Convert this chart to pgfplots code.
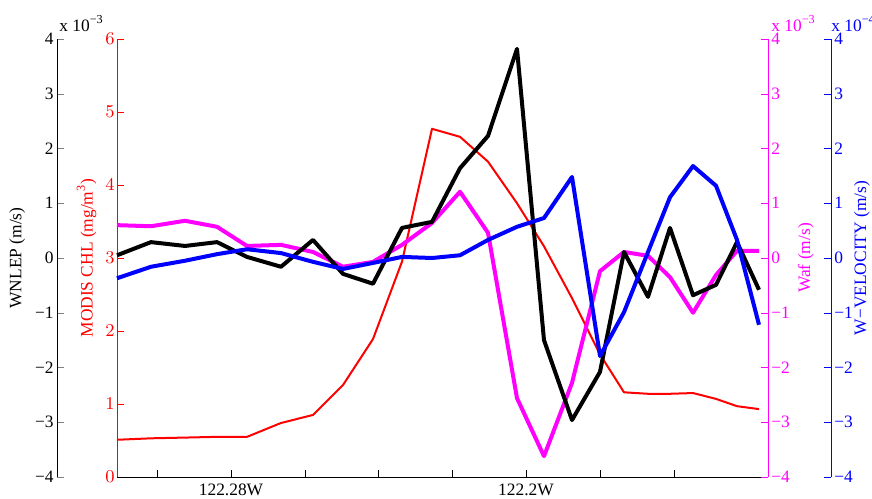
\documentclass[border=0pt]{standalone}
\usepackage{fontspec}
\setmainfont{Liberation Serif}
\usepackage{pgfplots}
\usepackage{pgfplotstable}
\pgfplotsset{compat=1.18}
\definecolor{mag}{RGB}{255,0,255}

\pgfplotstableread{
x chl
117 0.51
151 0.53
185 0.54
217 0.55
247 0.55
281 0.74
313 0.85
343 1.26
373 1.89
402 2.95
432 4.77
460 4.66
488 4.32
517 3.75
544 3.16
572 2.45
600 1.68
624 1.16
648 1.14
670 1.14
693 1.15
716 1.07
737 0.97
759 0.93
}\redtab

\pgfplotstableread{
x w
117 0.05
151 0.29
185 0.22
217 0.29
247 0.02
281 -0.16
313 0.33
343 -0.29
373 -0.47
402 0.55
432 0.66
460 1.64
488 2.23
517 3.82
544 -1.50
572 -2.96
600 -2.08
624 0.11
648 -0.71
670 0.55
693 -0.68
716 -0.49
737 0.29
759 -0.58
}\blacktab

\pgfplotstableread{
x w
117 0.60
151 0.58
185 0.68
217 0.57
247 0.22
281 0.24
313 0.11
343 -0.16
373 -0.07
402 0.24
432 0.64
460 1.21
488 0.46
517 -2.56
544 -3.62
572 -2.28
600 -0.24
624 0.11
648 0.04
670 -0.35
693 -1.00
716 -0.31
737 0.13
759 0.13
}\magtab

\pgfplotstableread{
x w
117 -0.37
151 -0.16
185 -0.05
217 0.07
247 0.16
281 0.09
313 -0.07
343 -0.20
373 -0.09
402 0.02
432 0.00
460 0.05
488 0.33
517 0.57
544 0.73
572 1.48
600 -1.79
624 -0.99
648 0.11
670 1.11
693 1.68
716 1.32
737 0.33
759 -1.22
}\bluetab

\pgfplotsset{
  myax/.style={
    scale only axis, height=219pt, anchor=south west, clip=false,
    tick label style={font=\fontsize{8.7}{10}\selectfont},
    label style={font=\fontsize{8.7}{10}\selectfont},
    major tick length=3.5pt,
  },
  pm/.style={ymin=-4, ymax=4, ytick={-4,-3,-2,-1,0,1,2,3,4},
    yticklabels={−4,−3,−2,−1,0,1,2,3,4}},
}

\begin{document}
\begin{tikzpicture}
% red CHL axis (main, with x axis)
\begin{axis}[myax, at={(58.5pt,10.5pt)}, width=325.5pt,
  xmin=117, xmax=768, ymin=0, ymax=6,
  axis x line*=bottom, axis y line*=left,
  x axis line style={black}, y axis line style={red},
  xtick={157,231,305,378,452,526,600,674},
  xticklabels={,122.28W,,,,122.2W,,},
  ytick={0,1,2,3,4,5,6},
  xtick style={black}, ytick style={red},
  yticklabel style={red, inner sep=1pt},
  ylabel={MODIS CHL (mg/m\textsuperscript{3})}, ylabel style={red},
  tick align=inside]
\addplot[red, line width=1pt, line join=round] table[x=x,y=chl]{\redtab};
\end{axis}
% magenta Waf axis
\begin{axis}[myax, pm, at={(58.5pt,10.5pt)}, width=325.5pt,
  xmin=117, xmax=768, hide x axis, axis y line*=right,
  y axis line style={mag}, ytick style={mag},
  yticklabel style={mag, inner sep=1.5pt},
  ylabel={Waf (m/s)}, ylabel style={mag, yshift=1pt},
  tick align=inside]
\addplot[mag, line width=2pt, line join=round] table[x=x,y=w]{\magtab};
\node[mag, anchor=base west, inner sep=0pt, font=\fontsize{8.7}{10}\selectfont] at ([xshift=1.5pt,yshift=3.8pt]rel axis cs:1,1) {x 10\textsuperscript{−3}};
\end{axis}
% black WNLEP axis
\begin{axis}[myax, pm, at={(28.5pt,10.5pt)}, width=355.5pt,
  xmin=57, xmax=768, hide x axis, axis y line*=left,
  yticklabel style={inner sep=1.5pt},
  ylabel={WNLEP (m/s)},
  tick align=inside]
\addplot[black, line width=2pt, line join=round] table[x=x,y=w]{\blacktab};
\node[anchor=base west, inner sep=0pt, font=\fontsize{8.7}{10}\selectfont] at ([xshift=1pt,yshift=3.8pt]rel axis cs:0,1) {x 10\textsuperscript{−3}};
\end{axis}
% blue W-velocity axis
\begin{axis}[myax, pm, at={(58.5pt,10.5pt)}, width=357pt,
  xmin=117, xmax=831, hide x axis, axis y line*=right,
  y axis line style={blue}, ytick style={blue},
  yticklabel style={blue, inner sep=1.5pt},
  ylabel={W−VELOCITY (m/s)}, ylabel style={blue, yshift=4.5pt},
  tick align=inside]
\addplot[blue, line width=2pt, line join=round] table[x=x,y=w]{\bluetab};
\node[blue, anchor=base west, inner sep=0pt, font=\fontsize{8.7}{10}\selectfont] at ([xshift=0pt,yshift=3.8pt]rel axis cs:1,1) {x 10\textsuperscript{−4}};
\end{axis}
\pgfresetboundingbox
\path[use as bounding box] (0,0) rectangle (436pt,249pt);
\end{tikzpicture}
\end{document}
